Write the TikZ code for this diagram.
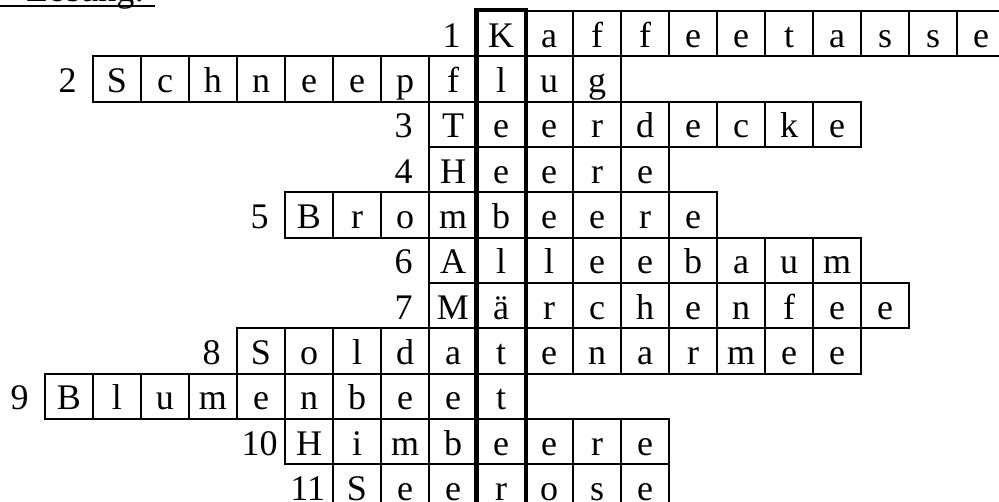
\documentclass[tikz,border=0pt]{standalone}
\usepackage{fontspec}
\setmainfont{Liberation Serif}
\usetikzlibrary{positioning}

\begin{document}
\begin{tikzpicture}[
    x=0.02cm,
    y=-0.02cm,
    font=\fontsize{20.5}{24}\selectfont,
    cell/.style={
        draw,
        line width=1.1pt,
        minimum width=0.96cm,
        minimum height=0.9066cm,
        inner sep=0pt,
        text height=0.62cm,
        text depth=0.08cm
    },
    clue/.style={
        inner sep=0pt,
        minimum width=0.96cm,
        text height=0.62cm,
        text depth=0.08cm
    },
    solution/.style={
        draw,
        line width=2.8pt
    },
    underbar/.style={
        line width=1.4pt
    }
]

\useasboundingbox (0,0) rectangle (999,502);

% heading, only its lower edge is on the page
\node[anchor=base west, inner sep=0pt] (loesung) at (26,1.2) {Lösung:};
\draw[underbar] (0,5.8) -- (155,5.8);

% rows: number / first column / letters
\foreach \row/\start/\word in {
    1/0/{K,a,f,f,e,e,t,a,s,s,e},
    2/-8/{S,c,h,n,e,e,p,f,l,u,g},
    3/-1/{T,e,e,r,d,e,c,k,e},
    4/-1/{H,e,e,r,e},
    5/-4/{B,r,o,m,b,e,e,r,e},
    6/-1/{A,l,l,e,e,b,a,u,m},
    7/-1/{M,ä,r,c,h,e,n,f,e,e},
    8/-5/{S,o,l,d,a,t,e,n,a,r,m,e,e},
    9/-9/{B,l,u,m,e,n,b,e,e,t},
    10/-4/{H,i,m,b,e,e,r,e},
    11/-3/{S,e,e,r,o,s,e}}{
    \foreach \ch [count=\i from 0] in \word {
        \pgfmathtruncatemacro{\col}{\start+\i}
        \node[cell] (cell-\row-\col) at ({501+48*\col},{33.67+45.33*(\row-1)}) {\ch};
    }
    \node[clue, left=0pt of cell-\row-\start] (num-\row) {\row};
}

% solution column
\draw[solution] (cell-1-0.north west) rectangle (cell-11-0.south east);

\end{tikzpicture}
\end{document}
